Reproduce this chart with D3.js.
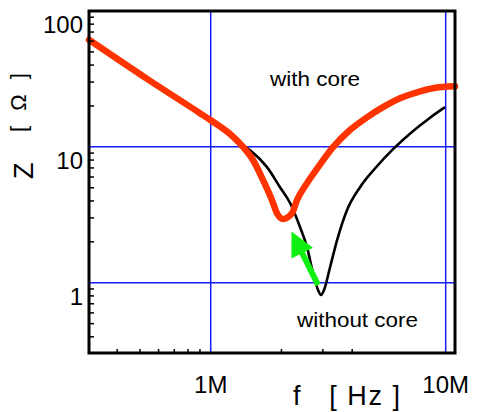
<!DOCTYPE html>
<html>
<head>
<meta charset="utf-8">
<script src="https://cdn.jsdelivr.net/npm/d3@7"></script>
<style>
  html, body { margin: 0; padding: 0; background: #fff; }
  svg { display: block; font-family: "Liberation Sans", Arial, Helvetica, sans-serif; }
</style>
</head>
<body>
<svg id="chart" width="481" height="412"></svg>
<script>
// Impedance |Z| vs frequency, with and without a ferrite core (f in MHz, Z in ohms)
const withCoreFreq = [0.3034, 0.534, 0.90, 1.0, 1.244, 1.372, 1.514, 1.669, 1.823, 1.914, 2.031, 2.218, 2.328, 2.569, 2.90, 3.315, 3.914, 4.624, 5.41, 6.39, 7.55, 8.83, 10.955];
const withCoreZ    = [61.4, 31.8, 17.7, 15.7, 11.9, 10.0, 8.0, 5.7, 4.05, 3.25, 2.95, 3.25, 4.05, 5.41, 7.3, 9.95, 13.3, 16.5, 19.6, 22.8, 25.2, 27.0, 27.9];

const noCoreFreq = [0.3034, 0.534, 0.90, 1.0, 1.244, 1.372, 1.47, 1.736, 1.972, 2.177, 2.399, 2.569, 2.725, 2.862, 2.948, 3.035, 3.22, 3.45, 3.80, 4.32, 5.10, 5.97, 7.27, 8.58, 9.93];
const noCoreZ    = [61.4, 31.8, 17.7, 15.7, 11.9, 10.3, 9.46, 7.09, 5.05, 3.86, 2.57, 1.83, 1.18, 0.884, 0.812, 0.884, 1.30, 2.06, 3.42, 5.05, 7.2, 9.62, 13.1, 16.4, 19.6];

const xMajorValues = [1, 10];
const xMajorLabels = ["1M", "10M"];
const yMajorValues = [1, 10, 100];
const yMajorLabels = ["1", "10", "100"];
const xMinorValues = [0.4, 0.5, 0.6, 0.7, 0.8, 0.9, 2, 3, 4];
const yMinorValues = [0.4, 0.5, 0.6, 0.7, 0.8, 0.9, 2, 3, 4, 5, 6, 7, 8, 9, 20, 30, 40, 50, 60, 70, 80, 90];

// arrow: from the no-core resonance toward the shifted with-core dip
const arrowFrom = [2.862, 0.962];
const arrowTo   = [2.207, 2.38];

const svg = d3.select("#chart");
const plotLeft = 89, plotRight = 455, plotTop = 11, plotBottom = 353;

const x = d3.scaleLog().domain([0.3034, 10.955]).range([plotLeft, plotRight]);
const y = d3.scaleLog().domain([0.304, 100]).range([plotBottom, plotTop]);

const grid = "#1a1aff";

// grid lines
svg.append("g").selectAll("line").data(yMajorValues.filter(v => v < 100)).join("line")
  .attr("x1", plotLeft).attr("x2", plotRight)
  .attr("y1", d => y(d)).attr("y2", d => y(d))
  .attr("stroke", grid).attr("stroke-width", 1.5);
svg.append("g").selectAll("line").data(xMajorValues).join("line")
  .attr("x1", d => x(d)).attr("x2", d => x(d))
  .attr("y1", plotTop).attr("y2", plotBottom)
  .attr("stroke", grid).attr("stroke-width", 1.5);

const line = d3.line().curve(d3.curveMonotoneX);

// without core
svg.append("path")
  .attr("d", line(noCoreFreq.map((f, i) => [x(f), y(noCoreZ[i])])))
  .attr("fill", "none").attr("stroke", "#000").attr("stroke-width", 2.6)
  .attr("stroke-linejoin", "round");

// with core
svg.append("path")
  .attr("d", line(withCoreFreq.map((f, i) => [x(f), y(withCoreZ[i])])))
  .attr("fill", "none").attr("stroke", "#ff3300").attr("stroke-width", 6.5)
  .attr("stroke-linejoin", "round").attr("stroke-linecap", "round");

// green arrow
{
  const x0 = x(arrowFrom[0]), y0 = y(arrowFrom[1]);
  const x1 = x(arrowTo[0]), y1 = y(arrowTo[1]);
  const len = Math.hypot(x1 - x0, y1 - y0);
  const ux = (x1 - x0) / len, uy = (y1 - y0) / len;
  const headLen = 24, headHalf = 12;
  const bx = x1 - ux * headLen, by = y1 - uy * headLen;
  svg.append("line")
    .attr("x1", x0).attr("y1", y0).attr("x2", bx + ux * 2).attr("y2", by + uy * 2)
    .attr("stroke", "#11ee11").attr("stroke-width", 6);
  svg.append("path")
    .attr("d", `M${x1},${y1}L${bx - uy * headHalf},${by + ux * headHalf}L${bx + uy * headHalf},${by - ux * headHalf}Z`)
    .attr("fill", "#11ee11");
}

// frame
svg.append("rect")
  .attr("x", plotLeft).attr("y", plotTop).attr("width", plotRight - plotLeft).attr("height", plotBottom - plotTop)
  .attr("fill", "none").attr("stroke", "#000").attr("stroke-width", 3);

// minor ticks
svg.append("g").selectAll("line").data(yMinorValues).join("line")
  .attr("x1", plotLeft).attr("x2", plotLeft + 5)
  .attr("y1", d => y(d)).attr("y2", d => y(d))
  .attr("stroke", "#000").attr("stroke-width", 1.5);
svg.append("g").selectAll("line").data(xMinorValues).join("line")
  .attr("x1", d => x(d)).attr("x2", d => x(d))
  .attr("y1", plotBottom).attr("y2", plotBottom - 4)
  .attr("stroke", "#000").attr("stroke-width", 1.5);

// tick labels
svg.append("g").selectAll("text").data(yMajorValues).join("text")
  .attr("x", plotLeft - 6).attr("y", d => y(d) + 22)
  .attr("text-anchor", "end").attr("font-size", 24)
  .text((d, i) => yMajorLabels[i]);
svg.append("g").selectAll("text").data(xMajorValues).join("text")
  .attr("x", d => x(d)).attr("y", 393)
  .attr("text-anchor", "middle").attr("font-size", 24)
  .text((d, i) => xMajorLabels[i]);

// axis titles
svg.append("text")
  .attr("x", 293).attr("y", 405).attr("font-size", 27)
  .attr("textLength", 107).attr("lengthAdjust", "spacing")
  .style("white-space", "pre").text("f   [ Hz ]");

svg.append("text")
  .attr("transform", "translate(33,179) rotate(-90)")
  .attr("font-size", 27).text("Z");
svg.append("text")
  .attr("transform", "translate(26,132) rotate(-90)")
  .attr("font-size", 22)
  .attr("textLength", 59).attr("lengthAdjust", "spacing")
  .style("white-space", "pre").text("[ Ω ]");

// series labels
svg.append("text")
  .attr("x", 270).attr("y", 86).attr("font-size", 21)
  .attr("textLength", 90).attr("lengthAdjust", "spacingAndGlyphs")
  .text("with core");
svg.append("text")
  .attr("x", 297).attr("y", 327).attr("font-size", 21)
  .attr("textLength", 121).attr("lengthAdjust", "spacingAndGlyphs")
  .text("without core");
</script>
</body>
</html>
